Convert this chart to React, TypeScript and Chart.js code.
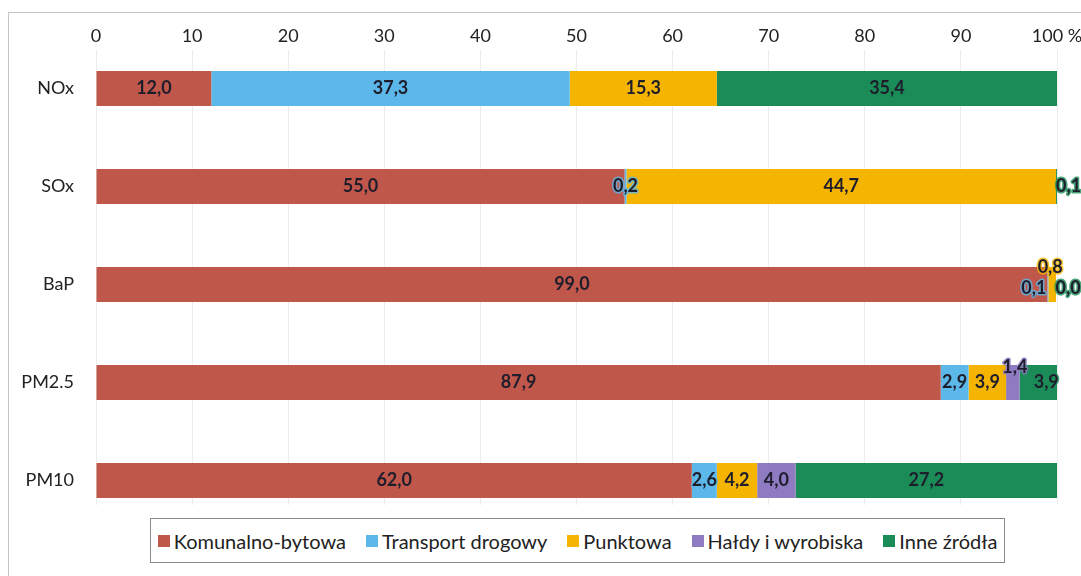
import React, { useEffect, useRef } from 'react';
import { Chart, registerables } from 'chart.js';

Chart.register(...registerables);

// ---- data ----
const categories = ['NOx', 'SOx', 'BaP', 'PM2.5', 'PM10'];
const seriesNames = ['Komunalno-bytowa', 'Transport drogowy', 'Punktowa', 'Hałdy i wyrobiska', 'Inne źródła'];
const komunalno = [12.0, 55.0, 99.0, 87.9, 62.0];
const transport = [37.3, 0.2, 0.1, 2.9, 2.6];
const punktowa = [15.3, 44.7, 0.8, 3.9, 4.2];
const haldy: (number | null)[] = [null, null, null, 1.4, 4.0];
const inne = [35.4, 0.1, 0.0, 3.9, 27.2];
const xTickValues = [0, 10, 20, 30, 40, 50, 60, 70, 80, 90, 100];

const seriesValues: (number | null)[][] = [komunalno, transport, punktowa, haldy, inne];
const colors = ['#C0574B', '#5DB8EA', '#F4B400', '#8E7BC2', '#1B8C57'];

// label nudges (px) for crowded small segments
const labelNudges: Record<string, [number, number]> = {
  'SOx|Inne źródła': [12, 0],
  'BaP|Transport drogowy': [-14, 4],
  'BaP|Punktowa': [-2, -17],
  'BaP|Inne źródła': [12, 4],
  'PM2.5|Hałdy i wyrobiska': [2, -15],
  'PM2.5|Inne źródła': [8, 0],
};

const FONT = 'Lato, "Open Sans", sans-serif';

const segLabels = {
  id: 'segLabels',
  afterDatasetsDraw(chart: any) {
    const ctx = chart.ctx;
    ctx.save();
    ctx.font = `bold 18px ${FONT}`;
    ctx.textAlign = 'center';
    ctx.textBaseline = 'middle';
    chart.data.datasets.forEach((ds: any, di: number) => {
      const meta = chart.getDatasetMeta(di);
      meta.data.forEach((bar: any, i: number) => {
        const v = seriesValues[di][i];
        if (v == null) return;
        const { x, y, base } = bar.getProps(['x', 'y', 'base'], true);
        const [dx, dy] = labelNudges[categories[i] + '|' + ds.label] || [0, 0];
        const cx = (x + base) / 2 + dx;
        const cy = y + dy;
        const text = v.toFixed(1).replace('.', ',');
        ctx.lineWidth = 3;
        ctx.lineJoin = 'round';
        ctx.strokeStyle = ds.backgroundColor;
        ctx.globalAlpha = 0.8;
        ctx.strokeText(text, cx, cy);
        ctx.globalAlpha = 1;
        ctx.fillStyle = '#1d1d2b';
        ctx.fillText(text, cx, cy);
      });
    });
    ctx.restore();
  },
};

export default function App() {
  const canvasRef = useRef<HTMLCanvasElement>(null);

  useEffect(() => {
    document.body.style.overflow = 'hidden';
    const canvas = canvasRef.current!;
    const chart = new Chart(canvas, {
      type: 'bar',
      data: {
        datasets: seriesNames.map((name, di) => ({
          label: name,
          data: seriesValues[di].map((v, i) => ({ x: v, y: i })) as any,
          backgroundColor: colors[di],
          borderWidth: 0,
          barPercentage: 0.357,
          categoryPercentage: 1,
        })),
      },
      options: {
        indexAxis: 'y',
        animation: false,
        responsive: false,
        devicePixelRatio: 1,
        layout: { padding: { left: 0, right: 24, top: 0, bottom: 71 } },
        plugins: { legend: { display: false }, tooltip: { enabled: false } },
        scales: {
          x: {
            type: 'linear',
            position: 'top',
            stacked: true,
            bounds: 'data',
            offset: false,
            min: 0,
            max: 100,
            afterBuildTicks: (scale: any) => {
              scale.ticks = xTickValues.map((v) => ({ value: v }));
            },
            ticks: {
              padding: 3,
              color: '#222',
              font: { family: FONT, size: 18 },
              callback: (v: any) => (v === 100 ? '100 %' : String(v)),
              maxRotation: 0,
              autoSkip: false,
            },
            grid: { color: '#ececec', drawTicks: false, lineWidth: 1, offset: false },
            border: { display: false },
            afterFit: (scale: any) => {
              scale.height = 50;
              scale.paddingLeft = 0;
              scale.paddingRight = 0;
            },
          },
          y: {
            type: 'linear',
            reverse: true,
            stacked: true,
            bounds: 'data',
            offset: false,
            min: -0.393,
            max: 4.25,
            afterBuildTicks: (scale: any) => {
              scale.ticks = categories.map((_, i) => ({ value: i }));
            },
            ticks: {
              autoSkip: false,
              padding: 22,
              color: '#222',
              font: { family: FONT, size: 18 },
              callback: (v: any) => (Number.isInteger(v) && categories[v] !== undefined ? categories[v] : ''),
            },
            grid: { display: false, drawTicks: false, offset: false },
            border: { display: false },
            afterFit: (scale: any) => {
              scale.width = 96;
              scale.paddingTop = 0;
              scale.paddingBottom = 0;
            },
          },
        },
      } as any,
      plugins: [segLabels],
    });
    return () => chart.destroy();
  }, []);

  return (
    <div style={{ position: 'fixed', left: 0, top: 0, width: 1081, height: 576, overflow: 'hidden', background: '#fff' }}>
      <div
        style={{
          position: 'absolute',
          left: 8,
          top: 12,
          width: 1100,
          height: 600,
          borderLeft: '1px solid #c4c4c4',
          borderTop: '1px solid #c4c4c4',
        }}
      />
      <canvas ref={canvasRef} width={1081} height={576} style={{ position: 'absolute', left: 0, top: 0, display: 'block' }} />
      <div
        style={{
          position: 'absolute',
          left: 150,
          top: 518,
          width: 855,
          height: 45,
          boxSizing: 'border-box',
          border: '1px solid #8a8a8a',
          background: '#fff',
          display: 'flex',
          alignItems: 'center',
          justifyContent: 'center',
          gap: 20,
          fontFamily: FONT,
          fontSize: 20,
          color: '#222',
        }}
      >
        {seriesNames.map((n, i) => (
          <span key={n} style={{ display: 'flex', alignItems: 'center', whiteSpace: 'nowrap' }}>
            <span style={{ display: 'inline-block', width: 12, height: 12, background: colors[i], marginRight: 4 }} />
            {n}
          </span>
        ))}
      </div>
    </div>
  );
}
